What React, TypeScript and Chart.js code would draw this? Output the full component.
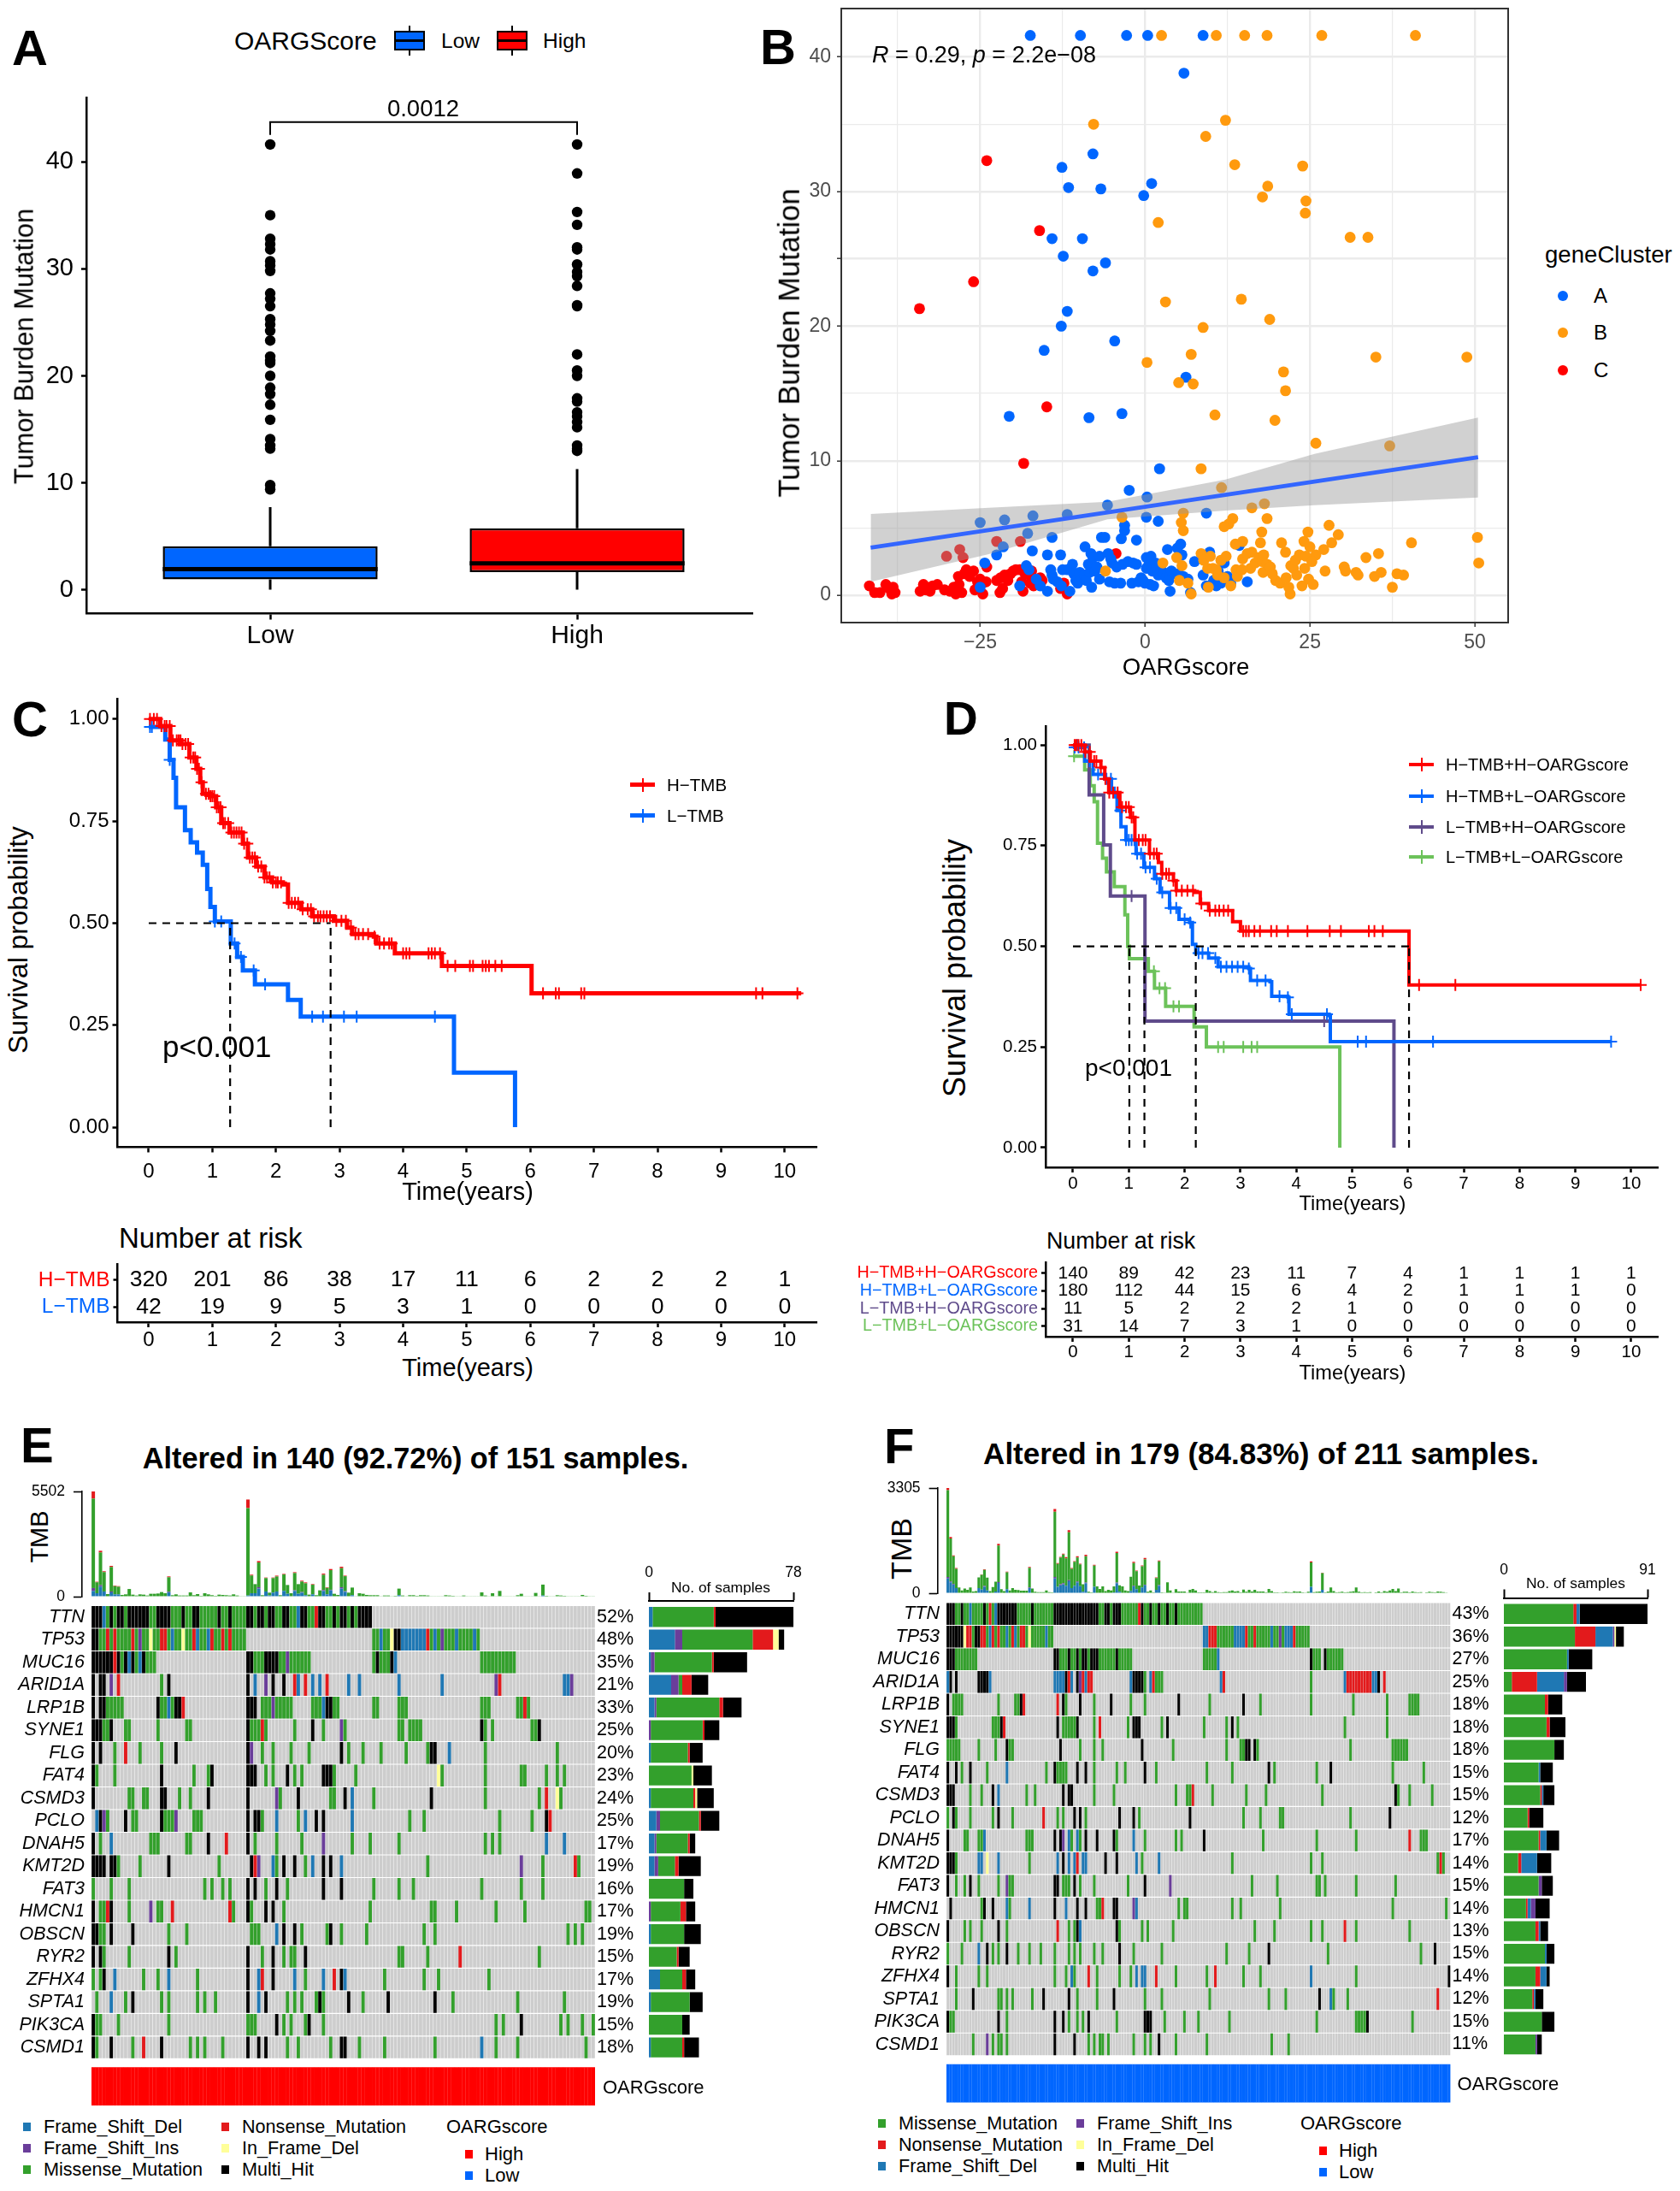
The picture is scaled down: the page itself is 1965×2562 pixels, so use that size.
import { useEffect, useRef } from 'react';
import { Chart, registerables } from 'chart.js';

Chart.register(...registerables);
Chart.defaults.font.family = '"Liberation Sans", Arial, sans-serif';
Chart.defaults.color = '#000';

const BLUE = '#0066FF';
const RED = '#FF0000';
const ORANGE = '#FF9A0E';
const PURPLE = '#5F4B8B';
const GREEN = '#6CC25A';
const FONT = '"Liberation Sans", Arial, sans-serif';

// ---- panel A
const boxNames = ['Low', 'High'];
const boxQ1 = [1.0, 1.67];
const boxMedian = [1.95, 2.5];
const boxQ3 = [4.09, 5.76];
const boxWhiskerLow = [0, 0];
const boxWhiskerHigh = [7.75, 11.3];
const outliersLow = [41.6, 35, 32.8, 32.3, 31.8, 30.7, 30.3, 29.8, 27.7, 27.2, 26.5, 25.3, 24.8, 24.2, 23.3, 21.8, 21.4, 21.2, 20, 18.9, 18.3, 17.3, 15.9, 14.1, 13.5, 13.2, 9.8, 9.4];
const outliersHigh = [41.6, 38.9, 35.3, 34.1, 32, 31.8, 30.4, 29.7, 29.3, 28.4, 26.6, 26.5, 22, 20.5, 20, 17.9, 17.6, 16.6, 16.2, 15.7, 15.2, 13.5, 13.2, 13];

// ---- panel B
const clusterA: number[][] = [[-17.4, 41.6], [-9.8, 41.6], [-2.8, 41.6], [0.4, 41.6], [8.8, 41.6], [5.9, 38.8], [-7.9, 32.8], [-12.6, 31.8], [-11.6, 30.3], [-6.7, 30.2], [1, 30.6], [-0.2, 29.7], [-14.1, 26.5], [-9.5, 26.5], [-12.4, 25.2], [-6, 24.7], [-7.9, 24.1], [-11.8, 21.1], [-12.7, 20], [-15.3, 18.2], [-4.6, 18.9], [6.2, 16.2], [-20.6, 13.3], [-8.5, 13.2], [-3.5, 13.5], [2.2, 9.4], [-2.4, 7.8], [0.3, 7.3], [-5.7, 6.7], [-25, 5.4], [-21.3, 5.6], [-17, 5.9], [-11.8, 6], [0.2, 5.8], [2, 5.5], [9.3, 6.1], [-17.8, 4.6], [-14.1, 4.3], [-3.1, 5.2], [-3.1, 4.8], [-3.6, 4.2], [-1.3, 4.1], [-6.6, 4.3], [-6.1, 4.3], [-21.5, 3.6], [-17.1, 3.3], [-9.1, 3.6], [-22.5, 3], [-14.8, 3], [-12.8, 3], [-24.3, 2.4], [-18, 2.2], [-25, 0.6], [-14.3, 1.9], [-14.1, 1.5], [-13.9, 1.2], [-13.3, 1], [-15.9, 0.7], [-14.8, 0.3], [-12.7, 0.7], [-12.5, 1.9], [-11.8, 1.9], [-11.4, 0.3], [-11, 2.3], [-10.8, 1.6], [-10.5, 1.1], [-10.2, 0.9], [-9.9, 1.7], [-9.6, 1.3], [-9.2, 1.5], [-8.9, 1.1], [-8.6, 2.3], [-8.4, 1.7], [-8.2, 3.1], [-8.1, 0.6], [-7.9, 2.8], [-7.6, 1.8], [-7.3, 2.1], [-6.9, 2.9], [-6.9, 1.2], [-5.6, 3.1], [-5.4, 1], [-5.2, 2.7], [-5, 2.4], [-4.6, 0.9], [-4.3, 2.1], [-3.7, 0.9], [-3.4, 2.3], [-2.6, 2.5], [-2, 0.9], [-1.8, 2.4], [-1.3, 2.3], [-1, 1], [-0.6, 1.3], [-0.3, 1.1], [0, 0.9], [0.2, 2], [0.2, 2.8], [0.5, 2.2], [0.8, 0.8], [0.9, 2.9], [1.1, 1.8], [1.3, 0.7], [1.6, 2.4], [1.8, 2], [2, 1.5], [2.4, 1.9], [2.8, 1.7], [3.2, 1.3], [3.4, 3.4], [3.6, 1.1], [3.8, 0.3], [4, 1.8], [4.6, 1.6], [4.9, 3.5], [5.1, 1.6], [5.4, 3.8], [5.6, 3], [5.8, 1.4], [6.5, 1.2], [6.9, 0.2], [7.5, 2.5], [8.8, 1.5], [9.3, 0.7], [9.8, 3.2], [10.2, 0.8], [10.4, 1.1], [10.8, 0.7], [11.1, 1.8], [11.5, 0.9], [12, 2.4], [12.5, 1.4], [13, 0.9], [14.3, 3.7], [15.5, 1], [-17.6, 1.9], [-16.5, 1.2], [-19, 0.7]];
const clusterB: number[][] = [[2.5, 41.6], [10.8, 41.6], [15.1, 41.6], [18.5, 41.6], [26.8, 41.6], [41, 41.6], [-7.8, 35], [12.2, 35.3], [9.2, 34.1], [13.6, 32], [23.9, 31.9], [18.6, 30.4], [17.8, 29.6], [24.4, 29.3], [24.3, 28.4], [2, 27.7], [31.1, 26.6], [33.8, 26.6], [3.1, 21.8], [14.6, 22], [18.9, 20.5], [8.8, 19.9], [7, 17.9], [0.3, 17.3], [35, 17.7], [48.8, 17.7], [21, 16.6], [5.1, 15.8], [7.3, 15.7], [21.3, 15.2], [10.6, 13.4], [19.7, 13], [25.9, 11.3], [37.1, 11.1], [8.5, 9.4], [11.6, 8], [18.1, 6.8], [16.2, 6.5], [5.8, 6.1], [-3.5, 5.8], [5.5, 5.4], [18.5, 5.7], [13.3, 5.7], [12.7, 5.3], [12, 5.1], [5.8, 4.8], [17.7, 4.7], [24.7, 4.7], [27.9, 5.2], [29.3, 4.5], [28.3, 3.9], [50.4, 4.3], [40.4, 3.9], [14.8, 4], [13.7, 3.8], [17.5, 3.9], [20.7, 3.9], [24.1, 4], [25, 3.6], [27.1, 3.4], [25.9, 3], [33.5, 2.8], [35.4, 3.1], [50.6, 2.4], [-6, 1.8], [2.7, 2.4], [4.8, 2.8], [5.2, 1.1], [5.6, 2.2], [6.5, 0.9], [7, 0.1], [8.5, 3.1], [8.9, 2.6], [9.5, 2], [9.9, 2.9], [9.6, 0.6], [10.3, 2], [10.8, 1.9], [11, 1.5], [11.5, 2.6], [12.3, 2.9], [12, 1.3], [13, 0.7], [13.8, 1.9], [14, 1.4], [14.7, 1.9], [14.8, 2.7], [15.5, 3.1], [16, 2], [16.2, 3.2], [16.7, 2.4], [17.3, 2.8], [17.8, 2.5], [17.9, 1.7], [18, 3], [18.5, 2.3], [19, 2.1], [19.3, 1.6], [19.8, 1.1], [20.5, 0.9], [21.3, 3.2], [21.4, 1.3], [21.8, 0.6], [22, 0.1], [22.1, 2.2], [22.5, 2], [22.8, 2.6], [23, 1.5], [23.4, 3], [23.8, 0.7], [24.2, 2], [24.4, 2.9], [24.8, 1.2], [25.3, 2.5], [25.5, 0.8], [27.3, 1.8], [30.2, 2.1], [30.4, 1.8], [32, 1.7], [32.3, 1.5], [34.8, 1.4], [35.8, 1.7], [37.5, 0.6], [38.2, 1.6], [39.2, 1.5]];
const clusterC: number[][] = [[-24, 32.3], [-16, 27.1], [-26, 23.3], [-34.2, 21.3], [-14.9, 14], [-18.4, 9.8], [-28.1, 3.4], [-30.1, 2.9], [-27.6, 2.8], [-22.5, 4], [-18.9, 4], [-24, 2.1], [-4.4, 3.1], [-41.8, 0.7], [-41, 0.2], [-40.2, 0.2], [-39.3, 0.8], [-38.8, 0.5], [-38.2, 0.6], [-38.4, 0.1], [-37.9, 0.2], [-34.1, 0.3], [-33.6, 0.8], [-33.2, 0.4], [-32.6, 0.3], [-32.2, 0.7], [-31.5, 0.8], [-30.4, 0.4], [-29.6, 0.3], [-29, 0.6], [-28.7, 0.1], [-28.3, 1.4], [-28.2, 0.8], [-27.8, 0.2], [-27.4, 1.6], [-27.1, 1.9], [-26.6, 1.4], [-26, 1.8], [-25.8, 0.4], [-25.4, 1], [-25, 1.2], [-24.7, 0.9], [-24.6, 0.1], [-24.1, 1], [-22.5, 1.1], [-22, 0.2], [-21.9, 1.3], [-21.6, 0.5], [-21.3, 1.5], [-20.8, 1.1], [-20.4, 1.6], [-20, 1.8], [-19.6, 1.9], [-19, 1.9], [-18.7, 1], [-18.5, 0.3], [-18.2, 1.6], [-17.8, 1.6], [-17.4, 0.9], [-17.2, 1.8], [-16.9, 0.7], [-16.3, 0.9], [-15.9, 1.3], [-15.6, 1.1], [-12.8, 0.5], [-12.3, 0.9], [-11.8, 0.1]];
const fitLine = [[-41.6, 3.54], [50.5, 10.26]];
const ribbonUpper = [[-41.6, 6.04], [-23.7, 6.5], [-5.7, 6.95], [12.2, 8.6], [25.7, 10.5], [50.5, 13.2]];
const ribbonLower = [[-41.6, 1], [-23.7, 3.05], [-5.7, 5.65], [12.2, 6.3], [25.7, 6.7], [50.5, 7.27]];

// ---- panel C: [time, survival after the drop]
const kmHighTmb = [[0, 1], [0.18, 0.983], [0.34, 0.948], [0.51, 0.939], [0.64, 0.906], [0.75, 0.878], [0.81, 0.845], [0.85, 0.817], [0.97, 0.811], [1.06, 0.784], [1.14, 0.745], [1.27, 0.722], [1.48, 0.695], [1.56, 0.661], [1.69, 0.639], [1.82, 0.612], [1.94, 0.6], [2.11, 0.595], [2.19, 0.55], [2.4, 0.534], [2.57, 0.517], [2.91, 0.506], [3.12, 0.489], [3.2, 0.473], [3.54, 0.467], [3.58, 0.45], [3.87, 0.426], [4.61, 0.395], [6.02, 0.328], [10.26, 0.328]];
const kmLowTmb = [[0, 0.981], [0.26, 0.95], [0.33, 0.9], [0.39, 0.856], [0.43, 0.784], [0.57, 0.728], [0.66, 0.698], [0.76, 0.673], [0.85, 0.643], [0.92, 0.584], [0.97, 0.54], [1.04, 0.504], [1.29, 0.45], [1.39, 0.417], [1.48, 0.384], [1.67, 0.35], [2.19, 0.312], [2.39, 0.271], [4.8, 0.134], [5.76, 0]];
const censorHighTmb = [0.02, 0.08, 0.13, 0.2, 0.25, 0.28, 0.33, 0.38, 0.44, 0.47, 0.5, 0.53, 0.58, 0.62, 0.66, 0.7, 0.73, 0.76, 0.79, 0.83, 0.9, 0.94, 0.97, 1, 1.03, 1.07, 1.1, 1.13, 1.17, 1.2, 1.25, 1.3, 1.34, 1.38, 1.42, 1.46, 1.5, 1.55, 1.59, 1.63, 1.67, 1.72, 1.77, 1.82, 1.86, 1.9, 1.95, 2, 2.03, 2.08, 2.2, 2.25, 2.3, 2.35, 2.42, 2.5, 2.55, 2.6, 2.66, 2.7, 2.75, 2.8, 2.85, 2.95, 3.03, 3.1, 3.18, 3.25, 3.3, 3.37, 3.45, 3.55, 3.63, 3.7, 3.78, 3.82, 4, 4.05, 4.1, 4.4, 4.45, 4.5, 4.58, 4.7, 4.82, 5.05, 5.1, 5.25, 5.3, 5.35, 5.45, 5.55, 6.2, 6.4, 6.45, 6.8, 6.85, 9.55, 9.65, 10.2];
const censorLowTmb = [0.02, 0.05, 0.33, 1.04, 1.14, 1.35, 1.45, 1.65, 1.83, 2.57, 2.74, 3.07, 3.27, 4.5];
const medianC = [1.28, 2.86];
const riskC = [[320, 201, 86, 38, 17, 11, 6, 2, 2, 2, 1], [42, 19, 9, 5, 3, 1, 0, 0, 0, 0, 0]];
const riskNamesC = ['H\u2212TMB', 'L\u2212TMB'];

// ---- panel D
const kmHH = [[0, 1], [0.21, 0.983], [0.31, 0.96], [0.5, 0.944], [0.57, 0.916], [0.64, 0.882], [0.84, 0.846], [1.03, 0.82], [1.11, 0.764], [1.37, 0.73], [1.53, 0.708], [1.59, 0.68], [1.8, 0.663], [1.85, 0.638], [2.18, 0.634], [2.28, 0.606], [2.43, 0.589], [2.86, 0.561], [3, 0.538], [6.02, 0.404], [10.17, 0.404]];
const kmHL = [[0, 0.994], [0.21, 0.96], [0.36, 0.927], [0.57, 0.916], [0.69, 0.882], [0.79, 0.837], [0.86, 0.797], [0.95, 0.764], [1.13, 0.73], [1.27, 0.696], [1.46, 0.668], [1.56, 0.634], [1.73, 0.595], [1.9, 0.567], [2.09, 0.559], [2.14, 0.505], [2.2, 0.483], [2.43, 0.471], [2.6, 0.449], [3.15, 0.445], [3.18, 0.415], [3.53, 0.412], [3.56, 0.376], [3.85, 0.373], [3.87, 0.331], [4.59, 0.328], [4.61, 0.263], [9.64, 0.263]];
const kmLH = [[0, 1], [0.29, 0.876], [0.55, 0.752], [0.67, 0.625], [1.29, 0.314], [5.75, 0]];
const kmLL = [[0, 0.972], [0.21, 0.938], [0.31, 0.899], [0.38, 0.859], [0.44, 0.756], [0.53, 0.719], [0.6, 0.685], [0.74, 0.648], [0.93, 0.578], [0.98, 0.5], [1.01, 0.469], [1.35, 0.438], [1.46, 0.396], [1.66, 0.351], [2.17, 0.3], [2.39, 0.25], [4.78, 0]];
const censorHH = [0.03, 0.06, 0.1, 0.15, 0.22, 0.3, 0.38, 0.42, 0.5, 0.58, 0.65, 0.72, 0.8, 0.88, 0.95, 1, 1.05, 1.08, 1.18, 1.25, 1.3, 1.38, 1.45, 1.5, 1.6, 1.67, 1.72, 1.8, 1.85, 1.95, 2.05, 2.15, 2.3, 2.45, 2.55, 2.62, 2.7, 2.78, 3.05, 3.1, 3.15, 3.25, 3.35, 3.55, 3.65, 3.85, 4.2, 4.6, 4.8, 5.3, 5.4, 5.55, 6.2, 6.85, 10.17];
const censorHL = [0.03, 0.1, 0.2, 0.3, 0.45, 0.6, 0.68, 0.75, 0.85, 0.95, 1, 1.05, 1.1, 1.15, 1.22, 1.3, 1.38, 1.5, 1.6, 1.75, 1.85, 2, 2.1, 2.25, 2.32, 2.42, 2.55, 2.65, 2.75, 2.85, 2.95, 3.05, 3.15, 3.3, 3.45, 3.7, 3.85, 3.92, 4.55, 5.1, 5.25, 6.45, 9.64];
const censorLH = [0.08, 1.05, 4.5];
const censorLL = [0.02, 0.3, 1.45, 1.55, 1.65, 1.8, 1.9, 2.6, 2.7, 3.05, 3.2, 3.3];
const medianD = [1.01, 1.28, 2.2, 6.02];
const riskD = [[140, 89, 42, 23, 11, 7, 4, 1, 1, 1, 1], [180, 112, 44, 15, 6, 4, 2, 1, 1, 1, 0], [11, 5, 2, 2, 2, 1, 0, 0, 0, 0, 0], [31, 14, 7, 3, 1, 0, 0, 0, 0, 0, 0]];
const groupNamesD = ['H\u2212TMB+H\u2212OARGscore', 'H\u2212TMB+L\u2212OARGscore', 'L\u2212TMB+H\u2212OARGscore', 'L\u2212TMB+L\u2212OARGscore'];

const yearTicks = [0, 1, 2, 3, 4, 5, 6, 7, 8, 9, 10];
const survTicks = [0, 0.25, 0.5, 0.75, 1];

// ---- panels E and F
const mutColors: Record<string, string> = { M: '#33A02C', N: '#E31A1C', D: '#1F78B4', I: '#6A3D9A', Y: '#FFFF99', K: '#000000' };

const genesE = ['TTN', 'TP53', 'MUC16', 'ARID1A', 'LRP1B', 'SYNE1', 'FLG', 'FAT4', 'CSMD3', 'PCLO', 'DNAH5', 'KMT2D', 'FAT3', 'HMCN1', 'OBSCN', 'RYR2', 'ZFHX4', 'SPTA1', 'PIK3CA', 'CSMD1'];
const pctE = ['52%', '48%', '35%', '21%', '33%', '25%', '20%', '23%', '24%', '25%', '17%', '19%', '16%', '17%', '19%', '15%', '17%', '19%', '15%', '18%'];
const pctF = ['43%', '36%', '27%', '25%', '18%', '18%', '18%', '15%', '15%', '12%', '17%', '14%', '15%', '14%', '13%', '15%', '14%', '12%', '15%', '11%'];

// sample runs per gene: "start-endCode", M missense N nonsense D fs-del I fs-ins Y inframe K multi-hit
const oncoE = [
  '0-2K 3D 4M 5K 6M 7-8K 9M 10-13K 14-15K 16-17M 18-21K 22-24M 25K 26-27M 28-29K 30-34M 35K 36-37M 38K 39-42M 43-44K 45M 46-47K 48M 49-50K 51-52M 53-54K 55-56M 57D 58-59K 60-61M 62N 63-64K 65-66M 67K 68M 69-70K 71M 72K 73M 74-75K 76-77K',
  '0-1K 2-3M 4N 5M 6N 7-10M 11N 12M 13I 14-15M 16Y 17-18M 19-20N 21M 22D 23-24M 25Y 26-27M 28N 29D 30-31M 32D 33N 34-35M 36N 37M 38N 39-42M 78-79M 80D 81-82M 83Y 84-85K 86-92D 93N 94M 95D 96M 97I 98-100M 101D 102-105M 106D 107M',
  '0-5K 6N 7K 8M 9K 10D 11K 12M 13D 14K 15-17M 43-44K 45-47M 48-51K 52-53M 54I 55-60M 78M 79K 80-82M 83K 84D 108-117M',
  '0K 2-3K 5I 7N 19M 21K 43K 45D 48I 50K 53K 56N 57D 59N 61D 63D 65N 71D 74D 85D 97D 112I 113N 131-132D 133I',
  '0K 2-3K 4-8M 18K 19-20M 21D 22M 23-24K 25N 43-44K 45K 47-49M 50I 51-55M 61-63M 64D 65-66K 67-68M 78-79M 85-87M 108-110M 118-119M 120N 121M',
  '0-2K 3-4M 5K 9-10M 18M 26-27M 43K 44-46M 47N 48M 56M 61K 64M 69I 70M 85-86M 88-91M 108K 109M 111M 122-123M 124K',
  '0K 2K 6M 9N 13M 19M 23K 43K 44I 47M 50M 55M 60M 69K 71M 75M 80M 87M 93M 94-95K 99D 109M 129M',
  '0K 1M 6M 19K 28M 32M 33K 43-45K 48M 50M 54K 56M 58M 64-66K 67M 73M 96Y 97M 109M 119-120M 126M 129M 131M',
  '0K 10-11M 14-15M 19-20K 24M 27M 32K 43K 51I 52M 57K 66-67M 70K 72D 78M 94K 109M 124M 126N 129Y 130M',
  '1D 2K 3I 4M 9K 11-12M 19K 20-22M 23I 28-30M 43K 45-46K 47M 51D 57M 59D 62K 64K 72D 88M 92M 113M 122M 126K 127N',
  '0K 2M 5D 16-18M 26-27M 32K 37N 43K 45M 51M 58M 64I 72M 77M 85M 109M 111M 113M 126D 131D',
  '0-3K 5-6K 7M 13M 21K 35M 44K 45N 46I 50D 51M 53K 56K 59M 61D 64K 66K 69D 93M 119I 125M 134N 135M',
  '0M 5M 10M 31M 33M 36M 38M 43K 45K 48M 51K 54M 64K 69K 78M 85M 89M 108M 119M 125M',
  '0K 2-3M 4N 5K 10M 16I 18-19M 22N 38N 39M 43K 44M 48K 50K 53M 77M 94-95M 101M 112M 120M 137-138M',
  '0-1K 2-3M 5K 11K 21M 26M 44-46M 51D 53K 56K 58M 65M 66K 69M 76M 92M 95M 132M 134M 136M',
  '0K 2K 3M 10M 21K 23M 43K 47M 50K 53M 55-56M 59K 85-86M 93M 102N 124M',
  '0M 2M 3K 6D 14M 18M 21D 29M 43K 46D 47N 50K 56D 59M 64D 67N 69K 70D 81M 92M 96M 110M',
  '1M 5D 9M 11K 19M 21M 29M 31M 34M 43K 46D 48K 54M 56M 58M 62M 63K 64M 71K 75M 82K 95K 100M 118M 131M',
  '0K 1-2M 7M 21M 43-45M 51K 53M 55M 60K 59M 64M 112M 114M 119K 130M 132M 136M 139M',
  '0K 1M 5K 11M 14N 19K 27M 29M 31M 36M 43K 46K 48K 54M 57M 66M 69-70K 74M 81M 95M 108D 112M 118M 137M',
];
const oncoF = [
  '0-2K 3-4M 5K 6-7M 8D 9-12M 13K 14M 15N 16M 17D 18-24K 25-29M 30K 31-37M 38-53K 54-55M 56-57K 58M 59-61K 62-67M 68N 69K 70-71M 72K 73-74M 75K 76-77M 78K 79-80M 81K 82-90M',
  '0-5K 6Y 7-8N 9M 10-11K 12-13N 14M 15D 16N 17M 18N 19-20M 21D 22M 23N 24D 25M 26-27N 28M 29Y 30-34M 35D 36-37M 91-92D 93-95N 96-101M 102-105D 106N 107-108M 109N 110-114M 115D 116-117M 118I 119M 120-122D 123N 124-128M',
  '0-2K 3-10M 38-39K 40-42M 43K 44-45M 46K 47M 48-49K 50M 51-53K 54-58M 59M 60K 61-65M 91-95M 96D 129K 130-132M 134K 135-140M',
  '0D 1K 3K 11-14K 15D 38-41D 42K 43N 44D 46K 47I 48N 49D 50-51N 65D 66-69K 70M 72D 73N 74-76M 97D 98N 129M 141D 142-150N 151-152D 153K 155N',
  '0K 2-5M 18M 24-25M 26K 27N 39N 41K 42M 47K 52M 58K 65M 70M 82K 93M 105K 111M 129M 144M 156M 164-167M',
  '0-2K 3M 16-18M 19K 20N 39K 41-45M 46K 52M 54N 64M 66-68K 76M 78K 91M 99M 101K 103M 141M 156M',
  '0-4M 11M 17M 21K 22-23M 40K 47M 52M 55M 69K 80M 99M 104-105M 106-107K 109K 110M 143M 158-163M',
  '0K 3K 5M 8K 14M 21D 35M 38K 39-42M 46K 49K 52M 60M 63M 70K 74M 92M 101M 114K 116M 131M 136K 158M 169M',
  '0-2K 8M 12M 16K 18D 28M 31M 41K 43-44K 52M 59M 81M 85-86M 87N 94M 106M 113M 133M 159K 160M 164M 172M',
  '0M 2K 3M 8M 16M 18K 23M 34N 39M 41M 45K 47K 49M 61K 66K 68M 86K 105M 111M 118-119M 143M 157K',
  '0K 6-7M 11-12M 13D 28-30M 38K 40K 41I 43D 44M 46D 47M 49K 53K 59K 60M 66D 70M 81M 83M 91K 112M 131M 145M 164N 168-170M',
  '0-2K 3M 11-12D 14Y 18D 29M 39D 41K 43D 45D 46N 48-49D 56K 60K 67D 69M 75D 101M 129M 133M 174M 175N 176M',
  '0K 3M 6M 8K 11M 18M 21I 22-23M 38-39K 41-43M 45K 47M 52M 64M 70K 79I 108M 117M 131-132M 134M 145M 159M',
  '1K 12M 13K 16K 21D 22M 29D 38K 42D 46K 49K 53-54M 55N 59-60K 66I 67D 82M 84-85M 101M 104M 118M 158M 177M',
  '0K 6M 8M 12M 18K 21M 39N 43M 45M 46K 47D 60K 61M 69M 71M 80M 109M 116M 129M 133M 141N 145M 164M',
  '0M 5M 11D 14K 16M 18M 21K 25M 29M 33M 38M 43M 45M 47M 52M 55M 61K 66M 76M 99M 107M 114K 135M 168M 173K',
  '0K 3M 11M 14M 38M 42M 44D 45M 50N 53M 61M 65M 67D 69-70D 74N 81M 92M 95N 105M 111M 129D 145M 178K',
  '3M 9K 18-19M 21M 23M 30M 34K 43K 46M 53M 59K 70M 76M 93M 114M 120M 132K 136D 137M 142M 174N',
  '0K 1-2M 18K 21M 38K 41K 43M 46M 48M 50K 60M 70-72K 77M 84M 89M 100M 131M 145-148M 149K 165M',
  '9M 14I 16M 18-19M 21M 38K 45K 50M 52M 54-55M 57M 66M 70M 72M 75K 81M 92M 115M 121M',
];

const barsDelE = [2, 14, 1, 12, 3, 0, 1, 0, 1, 4, 3, 3, 0, 0, 1, 0, 6, 1, 0, 1];
const barsInsE = [0, 4, 2, 4, 1, 1, 0, 0, 0, 2, 1, 2, 0, 1, 0, 0, 0, 0, 0, 0];
const barsMisE = [33, 38, 31, 2, 34, 28, 20, 23, 23, 21, 17, 9, 19, 16, 18, 15, 12, 21, 18, 17];
const barsNonE = [1, 11, 1, 5, 2, 1, 1, 0, 1, 1, 1, 2, 0, 3, 0, 1, 2, 0, 0, 1];
const barsInfE = [0, 3, 0, 0, 0, 0, 0, 1, 1, 0, 0, 0, 0, 0, 0, 0, 0, 0, 0, 0];
const barsMulE = [42, 3, 18, 9, 10, 8, 7, 10, 9, 10, 3, 12, 5, 5, 9, 6, 5, 7, 4, 8];
const barsMisF = [44, 45, 40, 5, 26, 27, 32, 22, 23, 15, 22, 9, 22, 14, 20, 26, 20, 18, 24, 20];
const barsNonF = [2, 13, 0, 16, 2, 2, 0, 0, 1, 1, 1, 2, 0, 1, 2, 0, 3, 1, 0, 0];
const barsDelF = [2, 11, 1, 17, 0, 0, 0, 1, 1, 0, 4, 10, 0, 2, 1, 1, 4, 1, 0, 0];
const barsInsF = [0, 1, 0, 2, 0, 0, 0, 0, 0, 0, 0, 0, 2, 3, 0, 0, 0, 0, 0, 1];
const barsInfF = [0, 1, 0, 0, 0, 0, 0, 0, 0, 0, 0, 0, 0, 0, 0, 0, 0, 0, 0, 0];
const barsMulF = [43, 5, 15, 12, 9, 10, 6, 8, 7, 9, 8, 9, 7, 9, 5, 5, 2, 5, 8, 3];

const tmbTotalE = [5502, 780, 2400, 1330, 135, 1610, 580, 550, 90, 120, 400, 105, 60, 120, 105, 60, 150, 150, 165, 240, 180, 1060, 75, 120, 60, 60, 60, 225, 75, 135, 45, 180, 120, 75, 45, 105, 90, 75, 60, 120, 60, 30, 30, 5080, 1150, 655, 1860, 75, 1000, 210, 1000, 1100, 75, 1190, 610, 180, 1280, 655, 835, 745, 105, 655, 75, 330, 1205, 490, 1445, 150, 90, 1565, 1100, 210, 475, 30, 180, 150, 90, 75, 75, 75, 15, 60, 60, 15, 45, 420, 60, 15, 75, 75, 45, 75, 75, 60, 30, 15, 30, 30, 75, 60, 45, 15, 30, 60, 30, 15, 30, 15, 225, 60, 30, 180, 15, 300, 15, 15, 15, 30, 75, 150, 30, 15, 30, 195, 30, 630, 45, 30, 30, 75, 60, 45, 30, 30, 15, 30, 90, 45, 30, 30];
const tmbDelE: Record<number, number> = { 0: 300, 1: 180, 2: 525, 3: 270, 5: 225, 6: 120, 7: 120, 21: 225, 43: 60, 44: 180, 45: 180, 46: 420, 48: 270, 49: 60, 50: 210, 51: 270, 53: 300, 54: 150, 56: 300, 57: 150, 58: 210, 59: 75, 61: 120, 64: 300, 65: 120, 66: 330, 69: 420, 70: 255, 72: 75, 85: 75, 125: 60 };
const tmbInsE: Record<number, number> = { 0: 150, 2: 75, 5: 45, 21: 30, 46: 75, 56: 30, 58: 30, 64: 45, 66: 30, 69: 75, 70: 30 };
const tmbNonE: Record<number, number> = { 0: 375, 1: 30, 2: 90, 3: 45, 5: 60, 6: 30, 7: 30, 21: 45, 43: 450, 44: 45, 46: 75, 48: 30, 50: 30, 51: 45, 53: 30, 56: 45, 58: 45, 59: 45, 61: 30, 64: 60, 65: 30, 66: 60, 69: 75, 70: 30 };
const tmbTotalF = [3305, 1765, 1190, 790, 180, 90, 145, 110, 180, 55, 70, 500, 590, 750, 490, 65, 195, 360, 1550, 125, 70, 680, 90, 160, 110, 100, 80, 80, 80, 825, 150, 45, 35, 35, 35, 90, 35, 25, 2650, 950, 1145, 1245, 1135, 1980, 790, 1010, 1165, 930, 285, 1210, 45, 25, 895, 215, 135, 215, 70, 110, 90, 215, 1305, 250, 215, 90, 70, 520, 985, 715, 240, 875, 1110, 45, 90, 25, 500, 1030, 25, 20, 340, 90, 20, 125, 55, 55, 55, 20, 105, 135, 90, 25, 25, 25, 105, 70, 35, 70, 35, 25, 35, 35, 70, 90, 55, 70, 25, 115, 45, 105, 55, 105, 55, 55, 55, 25, 135, 70, 25, 25, 20, 25, 45, 35, 25, 60, 45, 55, 25, 20, 45, 1000, 35, 45, 55, 645, 25, 55, 180, 70, 25, 35, 45, 25, 35, 45, 60, 180, 45, 25, 35, 25, 35, 15, 25, 55, 25, 70, 45, 90, 135, 70, 145, 25, 45, 45, 25, 55, 35, 25, 35, 15, 25, 45, 35, 25, 55, 45, 35, 20, 15];
const tmbDelF: Record<number, number> = { 0: 465, 1: 340, 2: 270, 3: 160, 11: 160, 12: 115, 13: 200, 14: 90, 17: 55, 18: 320, 21: 125, 29: 160, 38: 465, 39: 200, 40: 250, 41: 285, 42: 235, 43: 375, 44: 160, 45: 235, 46: 340, 47: 225, 48: 45, 49: 315, 52: 200, 59: 25, 60: 315, 61: 45, 65: 70, 66: 215, 67: 125, 69: 180, 70: 250, 74: 105, 75: 235, 129: 200, 133: 105 };
const tmbInsF: Record<number, number> = { 0: 45, 1: 30, 2: 20, 13: 30, 18: 30, 29: 20, 38: 45, 40: 30, 41: 30, 43: 35, 46: 30, 49: 20, 60: 20, 66: 20, 70: 20, 75: 20 };
const tmbNonF: Record<number, number> = { 0: 65, 1: 45, 2: 30, 3: 25, 12: 15, 13: 20, 18: 55, 21: 20, 29: 25, 38: 90, 39: 30, 40: 20, 41: 30, 42: 40, 43: 65, 44: 25, 45: 20, 46: 40, 47: 25, 49: 45, 52: 30, 60: 45, 66: 40, 67: 20, 69: 30, 70: 50, 74: 20, 75: 30, 129: 30, 133: 15 };

// ---- helpers
const ticksAt = (vals: number[]) => (s: any) => {
  s.ticks = vals.map((value) => ({ value }));
};
const flat = { autoSkip: false, maxRotation: 0, minRotation: 0 };
const axisLine = (tickLength = 6, width = 2.5) => ({
  border: { display: true, color: '#000', width },
  grid: { display: true, drawOnChartArea: false, drawTicks: true, tickLength, tickWidth: width, tickColor: '#000' },
});
const noAxis = { border: { display: false }, grid: { display: false, drawTicks: false } };
const xy = (pts: number[][]) => pts.map(([x, y]) => ({ x, y }));
const survAt = (curve: number[][], t: number) => {
  let s = curve[0][1];
  for (const [x, y] of curve) if (x <= t) s = y;
  return s;
};

type Box = number[];

function Panel({ x, y, w, h, plot, config }: { x: number; y: number; w: number; h: number; plot: Box; config: any }) {
  const ref = useRef<HTMLCanvasElement>(null);
  useEffect(() => {
    if (!ref.current) return;
    const options = config.options;
    options.responsive = false;
    options.animation = false;
    options.devicePixelRatio = 1;
    options.events = [];
    options.plugins = { legend: { display: false }, tooltip: { enabled: false }, ...(options.plugins || {}) };
    // each visible axis gets all the room on its side, so the plot area is exactly the box asked for
    const room: any = { left: plot[0] - x, top: plot[1] - y, right: x + w - plot[2], bottom: y + h - plot[3] };
    const padding = { ...room };
    Object.entries(options.scales).forEach(([id, s]: [string, any]) => {
      if (s.type === 'linear') {
        s.offset = false;
        s.grid = { ...(s.grid || {}), offset: false };
      }
      if (s.display === false) return;
      const side = s.position || (id[0] === 'x' ? 'bottom' : 'left');
      padding[side] = 0;
      s.afterFit = (scale: any) => {
        if (scale.isHorizontal()) scale.height = room[side];
        else scale.width = room[side];
        scale.paddingLeft = scale.paddingRight = scale.paddingTop = scale.paddingBottom = 0;
      };
    });
    options.layout = { padding };
    const chart = new Chart(ref.current, config);
    return () => chart.destroy();
  }, []);
  return <canvas ref={ref} width={w} height={h} style={{ position: 'absolute', left: x, top: y }} />;
}

function T({ x, y, size, children, anchor = 'start', bold, italic, color = '#000', rotate }: any) {
  const shift = anchor === 'middle' ? '-50%' : anchor === 'end' ? '-100%' : '0';
  return (
    <div
      style={{
        position: 'absolute',
        left: x,
        top: y,
        fontFamily: FONT,
        fontSize: size,
        fontWeight: bold ? 700 : 400,
        fontStyle: italic ? 'italic' : 'normal',
        color,
        lineHeight: 1,
        whiteSpace: 'nowrap',
        transform: `translate(${shift}, -50%)${rotate ? ` rotate(${rotate}deg)` : ''}`,
      }}
    >
      {children}
    </div>
  );
}

const Rect = ({ x, y, w, h, color, border, round }: any) => (
  <div style={{ position: 'absolute', left: x, top: y, width: w, height: h, background: color, boxSizing: 'border-box', border: border ? '2px solid #000' : 'none', borderRadius: round ? '50%' : 0 }} />
);

function KmKey({ x, w, y, color, t = 5 }: any) {
  return (
    <>
      <Rect x={x} y={y - t / 2} w={w} h={t} color={color} />
      <Rect x={x + w / 2 - 1} y={y - 8} w={2} h={16} color={color} />
    </>
  );
}

function BoxKey({ x, color }: any) {
  return (
    <>
      <Rect x={x + 17} y={30} w={2} h={35} color="#000" />
      <Rect x={x} y={36} w={36} h={23} color={color} border />
      <Rect x={x} y={46} w={36} h={3} color="#000" />
    </>
  );
}

// ---- chart configs
function boxplotConfig() {
  const cats = [1, 2];
  const colors = [BLUE, RED];
  return {
    type: 'bar',
    data: {
      datasets: [
        {
          type: 'line',
          data: [{ x: 1, y: 42.5 }, { x: 1, y: 43.7 }, { x: 2, y: 43.7 }, { x: 2, y: 42.5 }],
          borderColor: '#000',
          borderWidth: 2,
          pointRadius: 0,
          order: 0,
        },
        {
          data: cats.map((x, i) => ({ x, y: [boxMedian[i] - 0.2, boxMedian[i] + 0.2] })),
          backgroundColor: '#000',
          grouped: false,
          barPercentage: 0.7,
          categoryPercentage: 1,
          order: 1,
        },
        {
          data: cats.map((x, i) => ({ x, y: [boxQ1[i], boxQ3[i]] })),
          backgroundColor: colors,
          borderColor: '#000',
          borderWidth: 2.5,
          borderSkipped: false,
          grouped: false,
          barPercentage: 0.7,
          categoryPercentage: 1,
          order: 2,
        },
        {
          data: cats.flatMap((x, i) => [{ x, y: [boxWhiskerLow[i], boxQ1[i]] }, { x, y: [boxQ3[i], boxWhiskerHigh[i]] }]),
          backgroundColor: '#000',
          grouped: false,
          maxBarThickness: 3,
          order: 3,
        },
        {
          type: 'scatter',
          data: [...outliersLow.map((y) => ({ x: 1, y })), ...outliersHigh.map((y) => ({ x: 2, y }))],
          backgroundColor: '#000',
          borderWidth: 0,
          pointRadius: 6.2,
          order: 4,
        },
      ],
    },
    options: {
      scales: {
        x: {
          type: 'linear',
          min: 0.401,
          max: 2.571,
          afterBuildTicks: ticksAt(cats),
          ...axisLine(7),
          ticks: { ...flat, padding: 1, font: { size: 30 }, callback: (v: number) => boxNames[v - 1] },
        },
        y: {
          type: 'linear',
          min: -2.196,
          max: 45.99,
          afterBuildTicks: ticksAt([0, 10, 20, 30, 40]),
          ...axisLine(6),
          ticks: { ...flat, padding: 9, font: { size: 29 }, callback: (v: number) => String(v) },
        },
      },
    },
  };
}

const panelBorder = {
  id: 'panelBorder',
  afterDraw(chart: any) {
    const { ctx, chartArea: a } = chart;
    ctx.save();
    ctx.strokeStyle = '#333';
    ctx.lineWidth = 2;
    ctx.strokeRect(a.left, a.top, a.right - a.left, a.bottom - a.top);
    ctx.restore();
  },
};

function scatterConfig() {
  const dots = (pts: number[][], color: string, order: number) => ({
    data: xy(pts),
    backgroundColor: color,
    borderWidth: 0,
    pointRadius: 6.4,
    order,
  });
  const major = (v: number) => Number.isInteger(v / 10) || Number.isInteger(v / 25);
  const gridOpts = {
    color: '#EBEBEB',
    lineWidth: (c: any) => (c.tick && major(c.tick.value) ? 2.4 : 1.2),
    drawTicks: true,
    tickLength: 5,
    tickWidth: 1.5,
    tickColor: (c: any) => (c.tick && major(c.tick.value) ? '#333' : 'rgba(0,0,0,0)'),
  };
  const tickFont = { ...flat, color: '#4D4D4D', font: { size: 23 } };
  return {
    type: 'scatter',
    data: {
      datasets: [
        { data: xy(fitLine), showLine: true, borderColor: '#3366FF', borderWidth: 5, pointRadius: 0, order: 0 },
        {
          data: xy(ribbonUpper),
          showLine: true,
          borderWidth: 0,
          pointRadius: 0,
          fill: '+1',
          backgroundColor: 'rgba(153,153,153,0.45)',
          order: 1,
        },
        { data: xy(ribbonLower), showLine: true, borderWidth: 0, pointRadius: 0, order: 1 },
        dots(clusterC, RED, 4),
        dots(clusterA, BLUE, 3),
        dots(clusterB, ORANGE, 2),
      ],
    },
    options: {
      scales: {
        x: {
          type: 'linear',
          min: -46.06,
          max: 55.06,
          afterBuildTicks: ticksAt([-37.5, -25, -12.5, 0, 12.5, 25, 37.5, 50]),
          grid: gridOpts,
          border: { display: false },
          ticks: { ...tickFont, padding: 5, callback: (v: number) => (v % 25 === 0 ? String(v).replace('-', '\u2212') : '') },
        },
        y: {
          type: 'linear',
          min: -2.03,
          max: 43.6,
          afterBuildTicks: ticksAt([0, 5, 10, 15, 20, 25, 30, 35, 40]),
          grid: gridOpts,
          border: { display: false },
          ticks: { ...tickFont, padding: 7, callback: (v: number) => (v % 10 === 0 ? String(v) : '') },
        },
      },
    },
    plugins: [panelBorder],
  };
}

function kmConfig(opts: any) {
  const { curves, medians, xMin, xMax, yMin, yMax, tickSize, tickPad, lineWidth } = opts;
  const dashed = (pts: number[][]) => ({ data: xy(pts), borderColor: '#000', borderWidth: 2.2, borderDash: [9, 7], pointRadius: 0, order: 0 });
  const last = medians[medians.length - 1];
  return {
    type: 'line',
    data: {
      datasets: [
        dashed([[0, 0.5], [last, 0.5]]),
        ...medians.map((m: number) => dashed([[m, 0], [m, 0.5]])),
        ...curves.flatMap((c: any, i: number) => [
          {
            data: xy(c.curve),
            stepped: true,
            borderColor: c.color,
            borderWidth: lineWidth,
            pointRadius: 0,
            order: i + 1,
          },
          {
            data: c.censors.map((t: number) => ({ x: t, y: survAt(c.curve, t) })),
            showLine: false,
            pointStyle: 'cross',
            pointRadius: 7,
            pointBorderWidth: 2,
            pointBorderColor: c.color,
            order: i + 1,
          },
        ]),
      ],
    },
    options: {
      scales: {
        x: {
          type: 'linear',
          min: xMin,
          max: xMax,
          afterBuildTicks: ticksAt(yearTicks),
          ...axisLine(6),
          ticks: { ...flat, padding: tickPad, font: { size: tickSize }, callback: (v: number) => String(v) },
        },
        y: {
          type: 'linear',
          min: yMin,
          max: yMax,
          afterBuildTicks: ticksAt(survTicks),
          ...axisLine(6),
          ticks: { ...flat, padding: 4, font: { size: tickSize }, callback: (v: number) => v.toFixed(2) },
        },
      },
    },
  };
}

function riskConfig(opts: any) {
  const { rows, names, colors, xMin, xMax, yMin, yMax, tickSize, tickPad, numSize, nameSize } = opts;
  const numbers = {
    id: 'riskNumbers',
    afterDatasetsDraw(chart: any) {
      const { ctx, scales } = chart;
      ctx.save();
      ctx.font = `${numSize}px ${FONT}`;
      ctx.textAlign = 'center';
      ctx.textBaseline = 'middle';
      ctx.fillStyle = '#000';
      rows.forEach((row: number[], r: number) =>
        row.forEach((n, i) => ctx.fillText(String(n), scales.x.getPixelForValue(i), scales.y.getPixelForValue(r))),
      );
      ctx.restore();
    },
  };
  return {
    type: 'scatter',
    data: { datasets: [] },
    options: {
      scales: {
        x: {
          type: 'linear',
          min: xMin,
          max: xMax,
          afterBuildTicks: ticksAt(yearTicks),
          ...axisLine(6),
          ticks: { ...flat, padding: tickPad, font: { size: tickSize }, callback: (v: number) => String(v) },
        },
        y: {
          type: 'linear',
          reverse: true,
          min: yMin,
          max: yMax,
          afterBuildTicks: ticksAt(rows.map((_: any, i: number) => i)),
          ...axisLine(5),
          ticks: {
            ...flat,
            padding: 4,
            font: { size: nameSize },
            color: (c: any) => colors[c.index],
            callback: (_: number, i: number) => names[i],
          },
        },
      },
    },
    plugins: [numbers],
  };
}

function tmbConfig(total: number[], del: Record<number, number>, ins: Record<number, number>, non: Record<number, number>, xMin: number) {
  const stack = (key: string, color: string, values: number[]) => ({
    label: key,
    data: values.map((y, x) => ({ x, y })),
    backgroundColor: color,
    barPercentage: 0.95,
    categoryPercentage: 1,
  });
  return {
    type: 'bar',
    data: {
      datasets: [
        stack('del', mutColors.D, total.map((_, i) => del[i] || 0)),
        stack('ins', mutColors.I, total.map((_, i) => ins[i] || 0)),
        stack('mis', mutColors.M, total.map((v, i) => v - (del[i] || 0) - (ins[i] || 0) - (non[i] || 0))),
        stack('non', mutColors.N, total.map((_, i) => non[i] || 0)),
      ],
    },
    options: {
      scales: {
        x: { type: 'linear', stacked: true, min: xMin, max: total.length - 0.5, display: false },
        y: {
          type: 'linear',
          stacked: true,
          min: 0,
          max: total[0],
          afterBuildTicks: ticksAt([0, total[0]]),
          ...axisLine(10, 1.6),
          ticks: { ...flat, padding: 10, font: { size: 17.5 }, callback: (v: number) => String(v) },
        },
      },
    },
  };
}

function matrixConfig(rows: string[], samples: number, genes: string[], pct: string[], annotColor: string, annotFrom: number, annotTo: number, yMax: number) {
  const cellsByCode: Record<string, any[]> = { M: [], N: [], D: [], I: [], Y: [], K: [] };
  rows.forEach((row, r) => {
    row.split(' ').forEach((run) => {
      const m = run.match(/^(\d+)(?:-(\d+))?([A-Z])$/);
      if (!m) return;
      const a = Number(m[1]);
      const b = m[2] ? Number(m[2]) : a;
      for (let i = a; i <= b; i++) cellsByCode[m[3]].push({ x: i, y: [r + 0.02, r + 0.98] });
    });
  });
  const background: any[] = [];
  genes.forEach((_, r) => {
    for (let i = 0; i < samples; i++) background.push({ x: i, y: [r + 0.02, r + 0.98] });
  });
  const annot: any[] = [];
  for (let i = 0; i < samples; i++) annot.push({ x: i, y: [annotFrom, annotTo] });
  const rowTicks = genes.map((_, r) => r + 0.5);
  return {
    type: 'bar',
    data: {
      datasets: [
        ...Object.keys(cellsByCode).map((code) => ({
          data: cellsByCode[code],
          backgroundColor: mutColors[code],
          grouped: false,
          barPercentage: 0.92,
          categoryPercentage: 1,
          order: 0,
        })),
        { data: background, backgroundColor: '#CDCDCD', grouped: false, barPercentage: 0.9, categoryPercentage: 1, order: 1 },
        { data: annot, backgroundColor: annotColor, grouped: false, barPercentage: 1.06, categoryPercentage: 1, order: 1 },
      ],
    },
    options: {
      scales: {
        x: { type: 'linear', min: -0.5, max: samples - 0.5, display: false },
        y: {
          type: 'linear',
          reverse: true,
          min: 0,
          max: yMax,
          afterBuildTicks: ticksAt(rowTicks),
          ...noAxis,
          ticks: { ...flat, padding: 8, font: { size: 21.5, style: 'italic' }, callback: (_: number, i: number) => genes[i] },
        },
        y2: {
          type: 'linear',
          position: 'right',
          reverse: true,
          min: 0,
          max: yMax,
          afterBuildTicks: ticksAt(rowTicks),
          ...noAxis,
          ticks: { ...flat, padding: 2, font: { size: 21.5 }, callback: (_: number, i: number) => pct[i] },
        },
      },
    },
  };
}

function sideBarsConfig(segments: { values: number[]; code: string }[], genes: string[], max: number) {
  return {
    type: 'bar',
    data: {
      labels: genes,
      datasets: segments.map((s) => ({
        data: s.values,
        backgroundColor: mutColors[s.code],
        barPercentage: 0.88,
        categoryPercentage: 1,
      })),
    },
    options: {
      indexAxis: 'y',
      scales: {
        x: { type: 'linear', stacked: true, min: 0, max, display: false },
        y: { type: 'category', stacked: true, display: false },
      },
    },
  };
}

function bracketConfig(max: number) {
  return {
    type: 'scatter',
    data: { datasets: [] },
    options: {
      scales: {
        x: {
          type: 'linear',
          position: 'top',
          min: 0,
          max,
          afterBuildTicks: ticksAt([0, max]),
          ...axisLine(10, 2),
          ticks: { ...flat, padding: 12, font: { size: 17.5 }, callback: (v: number) => String(v) },
        },
        y: { type: 'linear', min: 0, max: 1, display: false },
      },
    },
  };
}

const segmentsE = [
  { values: barsDelE, code: 'D' },
  { values: barsInsE, code: 'I' },
  { values: barsMisE, code: 'M' },
  { values: barsNonE, code: 'N' },
  { values: barsInfE, code: 'Y' },
  { values: barsMulE, code: 'K' },
];
const segmentsF = [
  { values: barsMisF, code: 'M' },
  { values: barsNonF, code: 'N' },
  { values: barsDelF, code: 'D' },
  { values: barsInsF, code: 'I' },
  { values: barsInfF, code: 'Y' },
  { values: barsMulF, code: 'K' },
];

function MutLegend({ x1, x2, y, col1, col2, oargX, hiY }: any) {
  const names: Record<string, string> = { M: 'Missense_Mutation', N: 'Nonsense_Mutation', D: 'Frame_Shift_Del', I: 'Frame_Shift_Ins', Y: 'In_Frame_Del', K: 'Multi_Hit' };
  const column = (codes: string[], x: number) =>
    codes.map((c, i) => (
      <div key={c}>
        <Rect x={x - 5} y={y + i * 25 - 5} w={9} h={10} color={mutColors[c]} />
        <T x={x + 19} y={y + i * 25} size={21.6}>{names[c]}</T>
      </div>
    ));
  return (
    <>
      {column(col1, x1)}
      {column(col2, x2)}
      <T x={oargX} y={y} size={22}>OARGscore</T>
      <Rect x={oargX + 22} y={hiY - 5} w={9} h={10} color={RED} />
      <T x={oargX + 45} y={hiY} size={22}>High</T>
      <Rect x={oargX + 22} y={hiY + 20} w={9} h={10} color={BLUE} />
      <T x={oargX + 45} y={hiY + 25} size={22}>Low</T>
    </>
  );
}

export default function App() {
  return (
    <div style={{ position: 'absolute', left: 0, top: 0, width: 1965, height: 2562, background: '#fff', overflow: 'hidden' }}>
      {/* A */}
      <Panel x={40} y={100} w={860} h={670} plot={[101, 114, 880, 717.5]} config={boxplotConfig()} />
      <T x={14} y={56} size={58} bold>A</T>
      <T x={274} y={48} size={30}>OARGScore</T>
      <BoxKey x={461} color={BLUE} />
      <T x={516} y={48} size={24.5}>Low</T>
      <BoxKey x={581} color={RED} />
      <T x={635} y={48} size={24.5}>High</T>
      <T x={495} y={127} size={27.5} anchor="middle">0.0012</T>
      <T x={29} y={405} size={30.8} anchor="middle" rotate={-90}>Tumor Burden Mutation</T>

      {/* B */}
      <Panel x={930} y={0} w={860} h={770} plot={[984, 10, 1764, 728]} config={scatterConfig()} />
      <T x={889} y={55} size={58} bold>B</T>
      <T x={1020} y={64} size={27}><i>R</i> = 0.29, <i>p</i> = 2.2e{'\u2212'}08</T>
      <T x={923} y={401} size={34.5} anchor="middle" rotate={-90}>Tumor Burden Mutation</T>
      <T x={1387} y={780} size={27.6} anchor="middle">OARGscore</T>
      <T x={1807} y={298} size={27.6}>geneCluster</T>
      {[{ y: 346, c: BLUE, t: 'A' }, { y: 389, c: ORANGE, t: 'B' }, { y: 433, c: RED, t: 'C' }].map((k) => (
        <div key={k.t}>
          <Rect x={1822} y={k.y - 6} w={12} h={12} color={k.c} round />
          <T x={1864} y={k.y} size={24}>{k.t}</T>
        </div>
      ))}

      {/* C */}
      <Panel
        x={60}
        y={800}
        w={920}
        h={590}
        plot={[137.5, 817, 955, 1341.5]}
        config={kmConfig({
          curves: [
            { curve: kmHighTmb, censors: censorHighTmb, color: RED },
            { curve: kmLowTmb, censors: censorLowTmb, color: BLUE },
          ],
          medians: medianC,
          xMin: -0.49,
          xMax: 10.5,
          yMin: -0.049,
          yMax: 1.05,
          tickSize: 24,
          tickPad: 8,
          lineWidth: 5,
        })}
      />
      <T x={14} y={841} size={58} bold>C</T>
      <T x={22} y={1099} size={31.7} anchor="middle" rotate={-90}>Survival probability</T>
      <T x={190} y={1223} size={35}>p&lt;0.001</T>
      <T x={547} y={1393} size={29} anchor="middle">Time(years)</T>
      <KmKey x={737} w={29} y={917.5} color={RED} />
      <T x={780} y={917.5} size={20.5}>H{'\u2212'}TMB</T>
      <KmKey x={737} w={29} y={953.5} color={BLUE} />
      <T x={780} y={953.5} size={20.5}>L{'\u2212'}TMB</T>
      <T x={139} y={1447} size={33}>Number at risk</T>
      <Panel
        x={10}
        y={1470}
        w={970}
        h={110}
        plot={[137.5, 1478, 955, 1546]}
        config={riskConfig({ rows: riskC, names: riskNamesC, colors: [RED, BLUE], xMin: -0.49, xMax: 10.5, yMin: -0.6, yMax: 1.556, tickSize: 24, tickPad: 1, numSize: 26.6, nameSize: 24.5 })}
      />
      <T x={547} y={1599} size={29} anchor="middle">Time(years)</T>

      {/* D */}
      <Panel
        x={1170}
        y={840}
        w={790}
        h={560}
        plot={[1223, 849, 1939, 1365]}
        config={kmConfig({
          curves: [
            { curve: kmHH, censors: censorHH, color: RED },
            { curve: kmHL, censors: censorHL, color: BLUE },
            { curve: kmLH, censors: censorLH, color: PURPLE },
            { curve: kmLL, censors: censorLL, color: GREEN },
          ],
          medians: medianD,
          xMin: -0.49,
          xMax: 10.476,
          yMin: -0.049,
          yMax: 1.047,
          tickSize: 20.5,
          tickPad: 1,
          lineWidth: 4,
        })}
      />
      <T x={1104} y={840} size={55} bold>D</T>
      <T x={1117} y={1132} size={36} anchor="middle" rotate={-90}>Survival probability</T>
      <T x={1269} y={1249} size={28}>p&lt;0.001</T>
      <T x={1582} y={1408} size={23.6} anchor="middle">Time(years)</T>
      {groupNamesD.map((name, i) => (
        <div key={name}>
          <KmKey x={1648} w={29} y={[894, 931, 967, 1002][i]} color={[RED, BLUE, PURPLE, GREEN][i]} t={4.5} />
          <T x={1691} y={[894, 931, 967, 1002][i]} size={20}>{name}</T>
        </div>
      ))}
      <T x={1224} y={1451} size={26.8}>Number at risk</T>
      <Panel
        x={980}
        y={1470}
        w={980}
        h={125}
        plot={[1223, 1476.5, 1939, 1563]}
        config={riskConfig({ rows: riskD, names: groupNamesD, colors: [RED, BLUE, PURPLE, GREEN], xMin: -0.49, xMax: 10.476, yMin: -0.6, yMax: 3.58, tickSize: 20.5, tickPad: 0, numSize: 21, nameSize: 19.8 })}
      />
      <T x={1582} y={1606} size={23.6} anchor="middle">Time(years)</T>

      {/* E */}
      <T x={24} y={1690} size={58} bold>E</T>
      <T x={486} y={1705} size={34.3} bold anchor="middle">Altered in 140 (92.72%) of 151 samples.</T>
      <T x={46} y={1797} size={29} anchor="middle" rotate={-90}>TMB</T>
      <Panel x={30} y={1730} w={680} h={150} plot={[96, 1744, 696, 1867]} config={tmbConfig(tmbTotalE, tmbDelE, tmbInsE, tmbNonE, -3.115)} />
      <Panel
        x={0}
        y={1870}
        w={760}
        h={600}
        plot={[107, 1877.5, 696, 2463]}
        config={matrixConfig(oncoE, 140, genesE, pctE, RED, 20.37, 22.06, 22.1)}
      />
      <Panel x={750} y={1870} w={190} h={545} plot={[759, 1877.5, 928, 2407.3]} config={sideBarsConfig(segmentsE, genesE, 78)} />
      <Panel x={730} y={1825} w={220} h={50} plot={[759, 1872, 928, 1873]} config={bracketConfig(78)} />
      <T x={843} y={1857} size={17.4} anchor="middle">No. of samples</T>
      <T x={705} y={2441} size={22}>OARGscore</T>
      <MutLegend x1={32} x2={264} y={2487} col1={['D', 'I', 'M']} col2={['N', 'Y', 'K']} oargX={522} hiY={2519} />

      {/* F */}
      <T x={1034} y={1691} size={58} bold>F</T>
      <T x={1475} y={1699} size={35} bold anchor="middle">Altered in 179 (84.83%) of 211 samples.</T>
      <T x={1054} y={1811} size={34} anchor="middle" rotate={-90}>TMB</T>
      <Panel x={1030} y={1726} w={680} h={150} plot={[1096.6, 1740, 1696.6, 1863]} config={tmbConfig(tmbTotalF, tmbDelF, tmbInsF, tmbNonF, -3.65)} />
      <Panel
        x={1000}
        y={1866}
        w={760}
        h={600}
        plot={[1107, 1874, 1696.6, 2459.4]}
        config={matrixConfig(oncoF, 179, genesE, pctF, BLUE, 20.38, 22.07, 22.1)}
      />
      <Panel x={1750} y={1866} w={190} h={545} plot={[1759, 1874, 1927, 2403.8]} config={sideBarsConfig(segmentsF, genesE, 91)} />
      <Panel x={1730} y={1821} w={220} h={50} plot={[1759, 1868.5, 1927, 1869.5]} config={bracketConfig(91)} />
      <T x={1843} y={1852} size={17.4} anchor="middle">No. of samples</T>
      <T x={1704.6} y={2436.7} size={22}>OARGscore</T>
      <MutLegend x1={1032} x2={1264} y={2483} col1={['M', 'N', 'D']} col2={['I', 'Y', 'K']} oargX={1521} hiY={2515} />
    </div>
  );
}
